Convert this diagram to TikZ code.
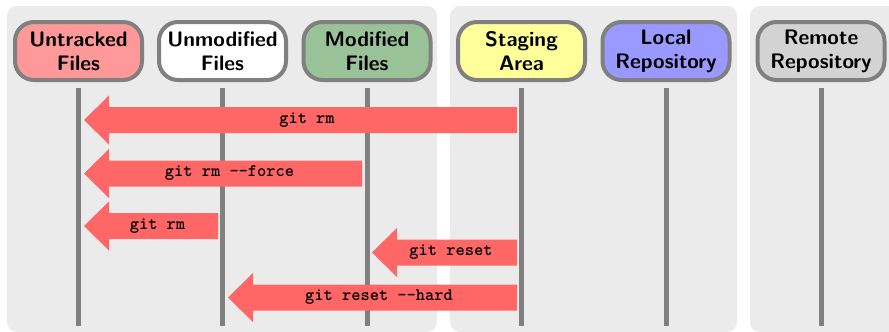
\documentclass[tikz,border=0pt]{standalone}
\usetikzlibrary{calc}
\definecolor{panelbg}{HTML}{EBEBEB}
\definecolor{bordergray}{HTML}{808080}
\definecolor{arrowred}{HTML}{FF6666}
\definecolor{untrackedc}{HTML}{FF9999}
\definecolor{modifiedc}{HTML}{99C299}
\definecolor{stagingc}{HTML}{FFFF99}
\definecolor{localc}{HTML}{9999FF}
\definecolor{remotec}{HTML}{D3D3D3}
\tikzset{
  panel/.style={fill=panelbg, rounded corners=5pt},
  state/.style={draw=bordergray, line width=2pt, rounded corners=9.5pt,
    minimum width=63.5pt, minimum height=29pt, align=center, inner sep=0pt,
    font=\fontsize{10.5}{12}\selectfont\sffamily\bfseries},
  lifeline/.style={draw=bordergray, line width=2.5pt},
  cmdlabel/.style={font=\fontsize{8.8}{10}\selectfont\ttfamily\bfseries, inner sep=0pt},
}
\newcommand{\bigarrow}[3]{%
  \fill[arrowred] ($(#1)+(0,-13)$) -- ($(#2)+(25,-13)$) -- ($(#2)+(25,-24.5)$) -- (#2)
    -- ($(#2)+(25,24.5)$) -- ($(#2)+(25,13)$) -- ($(#1)+(0,13)$) -- cycle;
  \node[cmdlabel] at ($($(#1)!0.5!(#2)$)+(6.5,0)$) {#3};
}
\begin{document}
\begin{tikzpicture}[x=0.5pt, y=-0.5pt]
\useasboundingbox (0,0) rectangle (889,332);
\clip (0,0) rectangle (889,332);
% panels
\fill[panel] (7,6) rectangle (437,332);
\fill[panel] (450,6) rectangle (737,332);
\fill[panel] (750,6) rectangle (905,332);
% nodes
\node[state, fill=untrackedc] (ut) at (78.5,51) {Untracked\\Files};
\node[state, fill=white] (um) at (222.5,51) {Unmodified\\Files};
\node[state, fill=modifiedc] (md) at (367,51) {Modified\\Files};
\node[state, fill=stagingc] (sa) at (521.5,51) {Staging\\Area};
\node[state, fill=localc] (lr) at (666,51) {Local\\Repository};
\node[state, fill=remotec] (rr) at (821,51) {Remote\\Repository};
% lifelines
\foreach \n in {ut,um,md,sa,lr,rr}{
  \coordinate (\n-top) at ($(\n.center)+(0,37)$);
  \coordinate (\n-bot) at ($(\n.center)+(0,275)$);
  \draw[lifeline] (\n-top) -- (\n-bot);
}
% arrow end points
\coordinate (a1s) at (517,120);   \coordinate (a1t) at (84,120);
\coordinate (a2s) at (362,173.5); \coordinate (a2t) at (84,173.5);
\coordinate (a3s) at (218,226);   \coordinate (a3t) at (84,226);
\coordinate (a4s) at (517,252.5); \coordinate (a4t) at (372,252.5);
\coordinate (a5s) at (517,297.5); \coordinate (a5t) at (228,297.5);
\bigarrow{a1s}{a1t}{git rm}
\bigarrow{a2s}{a2t}{git rm --force}
\bigarrow{a3s}{a3t}{git rm}
\bigarrow{a4s}{a4t}{git reset}
\bigarrow{a5s}{a5t}{git reset --hard}
\end{tikzpicture}
\end{document}
